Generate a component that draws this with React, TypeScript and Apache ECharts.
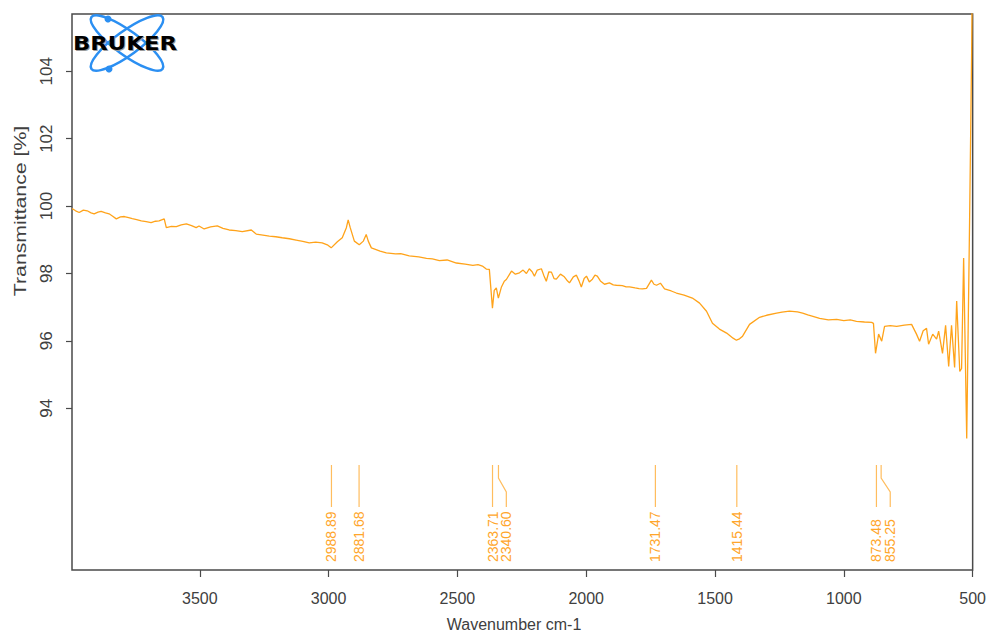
import React, { useEffect, useRef } from "react";
import * as echarts from "echarts";

const wavenumbers = [
  3996, 3982, 3968, 3952, 3937, 3922, 3910, 3895, 3883, 3866, 3852, 3838, 3824, 3808, 3793, 3776, 3762, 3745, 3727, 3708,
  3689, 3672, 3658, 3638, 3630, 3610, 3591, 3572, 3552, 3532, 3514, 3503, 3483, 3458, 3432, 3410, 3386, 3360, 3335, 3300,
  3281, 3255, 3230, 3205, 3180, 3152, 3126, 3100, 3075, 3050, 3025, 3005, 2990, 2966, 2947, 2931, 2924, 2916, 2900, 2881,
  2865, 2854, 2846, 2834, 2800, 2776, 2740, 2720, 2687, 2650, 2620, 2597, 2570, 2540, 2504, 2470, 2440, 2420, 2403, 2388,
  2376, 2364, 2357, 2349, 2341, 2329, 2318, 2310, 2290, 2275, 2259, 2245, 2232, 2221, 2210, 2201, 2190, 2174, 2165, 2155,
  2145, 2135, 2125, 2116, 2100, 2085, 2075, 2065, 2050, 2038, 2028, 2019, 2008, 1999, 1988, 1976, 1966, 1957, 1945, 1929,
  1910, 1895, 1883, 1860, 1845, 1832, 1810, 1795, 1782, 1766, 1747, 1737, 1727, 1712, 1696, 1670, 1650, 1620, 1588, 1560,
  1533, 1510, 1483, 1455, 1430, 1417, 1405, 1393, 1366, 1327, 1300, 1261, 1240, 1211, 1180, 1160, 1140, 1120, 1094, 1060,
  1028, 1000, 975, 951, 920, 892, 885, 877, 865, 853, 842, 820, 795, 765, 737, 718, 706, 692, 679, 671,
  655, 640, 632, 617, 605, 593, 582, 570, 562, 550, 543, 535, 523, 512, 504, 500,
];
const transmittance = [
  99.93, 99.86, 99.81, 99.88, 99.86, 99.8, 99.77, 99.82, 99.84, 99.8, 99.77, 99.7, 99.62, 99.68, 99.69, 99.66, 99.63, 99.6, 99.56, 99.54,
  99.51, 99.55, 99.56, 99.62, 99.36, 99.4, 99.39, 99.44, 99.47, 99.42, 99.36, 99.41, 99.32, 99.38, 99.41, 99.34, 99.29, 99.27, 99.24, 99.29,
  99.17, 99.14, 99.11, 99.09, 99.06, 99.03, 98.99, 98.95, 98.91, 98.93, 98.91, 98.85, 98.76, 98.94, 99.06, 99.36, 99.59, 99.36, 98.96, 98.85,
  98.96, 99.16, 98.96, 98.76, 98.66, 98.61, 98.58, 98.59, 98.52, 98.49, 98.45, 98.43, 98.38, 98.4, 98.31, 98.28, 98.24, 98.26, 98.22, 98.13,
  98.12, 96.97, 97.5, 97.57, 97.27, 97.6, 97.77, 97.82, 98.07, 97.98, 98.02, 98.1, 98.0, 98.14, 98.05, 97.92, 98.1, 98.14, 97.95, 97.77,
  98.05, 98.04, 97.85, 97.83, 97.98, 97.9, 97.8, 97.72, 97.9, 97.95, 97.78, 97.6, 97.85, 97.92, 97.75, 97.83, 97.95, 97.92, 97.78, 97.68,
  97.72, 97.66, 97.65, 97.64, 97.6, 97.6, 97.57, 97.55, 97.54, 97.56, 97.8, 97.68, 97.65, 97.71, 97.54, 97.48, 97.42, 97.36, 97.27, 97.12,
  96.88, 96.52, 96.35, 96.23, 96.08, 96.02, 96.06, 96.14, 96.49, 96.7, 96.76, 96.82, 96.85, 96.88, 96.86, 96.82, 96.77, 96.73, 96.67, 96.62,
  96.64, 96.6, 96.62, 96.58, 96.56, 96.55, 96.52, 95.63, 96.2, 95.99, 96.43, 96.45, 96.43, 96.47, 96.49, 96.2, 95.99, 96.3, 96.37, 95.9,
  96.2, 96.05, 96.29, 95.63, 96.46, 95.24, 96.46, 95.21, 97.18, 95.09, 95.18, 98.46, 93.1, 99.5, 104.5, 108,
];

const peaks = [2988.89, 2881.68, 2363.71, 2340.6, 1731.47, 1415.44, 873.48, 855.25];
const xTicks = [3500, 3000, 2500, 2000, 1500, 1000, 500];
const yTicks = [94, 96, 98, 100, 102, 104];

const AXIS_FONT = '"Liberation Sans", Arial, sans-serif';

export default function App() {
  const ref = useRef<HTMLDivElement>(null);

  useEffect(() => {
    const chart = echarts.init(ref.current!, null, { renderer: "svg" });
    const lineData = wavenumbers.map((w, i) => [w, transmittance[i]]);

    const option: any = {
      animation: false,
      backgroundColor: "#ffffff",
      grid: {
        left: 72,
        right: 16,
        top: 14,
        bottom: 63,
        show: true,
        borderColor: "#4a4a4a",
        borderWidth: 1.5,
        backgroundColor: "transparent",
      },
      xAxis: {
        type: "value",
        min: 500,
        max: 3996,
        inverse: true,
        axisLine: { show: false },
        splitLine: { show: false },
        axisTick: { show: true, length: 7, customValues: xTicks, lineStyle: { color: "#4a4a4a", width: 1.2 } },
        axisLabel: {
          customValues: xTicks,
          formatter: (v: number) => String(v),
          margin: 20,
          color: "#404040",
          fontSize: 16,
          fontFamily: AXIS_FONT,
        },
      },
      yAxis: {
        type: "value",
        min: 89.2,
        max: 105.7,
        axisLine: { show: false },
        splitLine: { show: false },
        axisTick: { show: true, length: 6, customValues: yTicks, lineStyle: { color: "#4a4a4a", width: 1.2 } },
        axisLabel: {
          customValues: yTicks,
          formatter: (v: number) => String(v),
          rotate: 90,
          margin: 17,
          color: "#404040",
          fontSize: 17,
          fontFamily: AXIS_FONT,
        },
      },
      graphic: [
        {
          type: "text",
          x: 20,
          y: 211,
          rotation: Math.PI / 2,
          scaleX: 1.25,
          style: {
            text: "Transmittance [%]",
            align: "center",
            verticalAlign: "middle",
            font: `17px ${AXIS_FONT}`,
            fill: "#404040",
          },
        },
        {
          type: "text",
          x: 514,
          y: 624,
          style: {
            text: "Wavenumber cm-1",
            align: "center",
            verticalAlign: "middle",
            font: `16px ${AXIS_FONT}`,
            fill: "#404040",
          },
        },
        {
          type: "group",
          z: 100,
          children: [
            {
              type: "ellipse",
              x: 127,
              y: 43,
              rotation: 0.63,
              shape: { cx: 0, cy: 0, rx: 44, ry: 12 },
              style: { fill: "none", stroke: "#2b8ff2", lineWidth: 2.5 },
            },
            {
              type: "ellipse",
              x: 127,
              y: 43,
              rotation: -0.63,
              shape: { cx: 0, cy: 0, rx: 44, ry: 12 },
              style: { fill: "none", stroke: "#2b8ff2", lineWidth: 2.5 },
            },
            { type: "circle", shape: { cx: 108, cy: 19, r: 3.5 }, style: { fill: "#2b8ff2" } },
            { type: "circle", shape: { cx: 109, cy: 69, r: 3.5 }, style: { fill: "#2b8ff2" } },
            {
              type: "text",
              x: 126,
              y: 45,
              scaleX: 1.2,
              style: {
                text: "BRUKER",
                align: "center",
                verticalAlign: "middle",
                font: '900 19px "DejaVu Sans", sans-serif',
                fill: "#9a9a9a",
              },
            },
            {
              type: "text",
              x: 125,
              y: 44,
              scaleX: 1.2,
              style: {
                text: "BRUKER",
                align: "center",
                verticalAlign: "middle",
                font: '900 19px "DejaVu Sans", sans-serif',
                fill: "#000000",
              },
            },
          ],
        },
      ],
      series: [
        {
          type: "line",
          data: lineData,
          showSymbol: false,
          symbol: "none",
          clip: true,
          lineStyle: { color: "#FFA31A", width: 1.3 },
          z: 3,
        },
        {
          type: "custom",
          data: peaks.map((p) => [p, 92]),
          encode: { x: 0, y: 1 },
          z: 4,
          renderItem: (params: any, api: any) => {
            const i = params.dataIndex;
            const cs = params.coordSys;
            const bottom = cs.y + cs.height;
            let prevLx = -Infinity;
            let x = 0;
            let lx = 0;
            for (let k = 0; k <= i; k++) {
              const px = api.coord([peaks[k], 100])[0];
              const l = Math.max(px, prevLx + 13.8);
              prevLx = l;
              if (k === i) {
                x = px;
                lx = l;
              }
            }
            return {
              type: "group",
              children: [
                {
                  type: "polyline",
                  shape: {
                    points: [
                      [x, bottom - 105],
                      [x, bottom - 92],
                      [lx, bottom - 78],
                      [lx, bottom - 63],
                    ],
                  },
                  style: { stroke: "#FFBD5E", lineWidth: 1.2, fill: null },
                },
                {
                  type: "text",
                  x: lx,
                  y: bottom - 8,
                  rotation: Math.PI / 2,
                  style: {
                    text: peaks[i].toFixed(2),
                    fill: "#FFA62B",
                    font: `14px ${AXIS_FONT}`,
                    align: "left",
                    verticalAlign: "middle",
                  },
                },
              ],
            };
          },
        },
      ],
    };

    chart.setOption(option);
    return () => chart.dispose();
  }, []);

  return (
    <div
      ref={ref}
      style={{ position: "absolute", left: 0, top: 0, width: 989, height: 633 }}
    />
  );
}
